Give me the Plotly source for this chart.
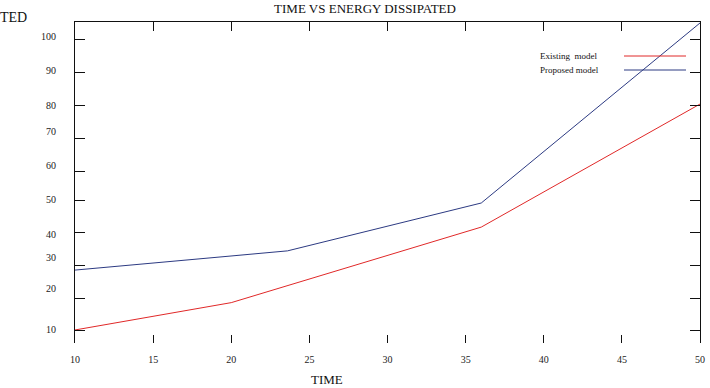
import plotly.graph_objects as go

# Data
existing_x = [10, 20, 36, 50]
existing_y = [10, 18.4, 41.6, 79.4]
proposed_x = [10, 15, 20, 23.6, 36, 50]
proposed_y = [28.4, 30.6, 32.7, 34.3, 49.0, 104.3]

x_ticks = [10, 15, 20, 25, 30, 35, 40, 45, 50]
y_label_pos = [100, 89.7, 79.0, 71.0, 60.5, 50.1, 39.4, 32.3, 22.8, 10.3]
y_labels = ["100", "90", "80", "70", "60", "50", "40", "30", "20", "10"]
y_tick_marks = [99.1, 89.2, 79.1, 68.7, 58.6, 49.9, 39.8, 29.7, 19.6, 9.7]

RED = "#e02828"
BLUE = "#2c3a82"
FONT = "Liberation Serif"

fig = go.Figure()
fig.add_trace(go.Scatter(x=existing_x, y=existing_y, mode="lines",
                         line=dict(color=RED, width=1), name="Existing model",
                         showlegend=False))
fig.add_trace(go.Scatter(x=proposed_x, y=proposed_y, mode="lines",
                         line=dict(color=BLUE, width=1), name="Proposed model",
                         showlegend=False))
# invisible trace to activate secondary axes
fig.add_trace(go.Scatter(x=[10], y=[10], xaxis="x2", yaxis="y2", mode="markers",
                         marker=dict(opacity=0), showlegend=False, hoverinfo="skip"))

yr = [6.0, 104.6]
fig.update_layout(
    width=710, height=388,
    margin=dict(l=75, r=10, t=22, b=45, autoexpand=False),
    showlegend=False,
    plot_bgcolor="white", paper_bgcolor="white",
    font=dict(family=FONT, size=10, color="#222"),
    title=dict(text="TIME VS ENERGY DISSIPATED", x=365/710, xanchor="center",
               y=1 - 8/388, yanchor="middle",
               font=dict(family=FONT, size=13, color="#111")),
    xaxis=dict(range=[10, 50], tickvals=x_ticks, ticktext=[str(v) for v in x_ticks],
               showgrid=False, zeroline=False, showline=False, automargin=False,
               ticks="inside", ticklen=8, tickcolor="#111", tickwidth=1,
               ticklabelstandoff=9, tickfont=dict(family=FONT, size=10)),
    xaxis2=dict(range=[10, 50], overlaying="x", side="top", tickvals=x_ticks,
                showticklabels=False, showgrid=False, zeroline=False, automargin=False,
                showline=True, linecolor="#111", linewidth=1,
                ticks="inside", ticklen=9, tickcolor="#111"),
    yaxis=dict(range=yr, tickvals=y_label_pos, ticktext=y_labels, automargin=False,
               showgrid=False, zeroline=False, showline=True, linecolor="#111",
               linewidth=1, ticks="", ticklabelstandoff=16,
               tickfont=dict(family=FONT, size=10)),
    yaxis2=dict(range=yr, overlaying="y", side="left", tickvals=y_tick_marks,
                showticklabels=False, showgrid=False, zeroline=False, automargin=False,
                showline=True, linecolor="#111", linewidth=1, mirror="ticks",
                ticks="inside", ticklen=10, tickcolor="#111"),
)

# y-axis title (top-left) and x-axis title
fig.add_annotation(text="TED", xref="paper", yref="paper", x=-77/625, y=(343-17)/321,
                   xanchor="left", yanchor="middle", showarrow=False,
                   font=dict(family=FONT, size=14, color="#111"))
fig.add_annotation(text="TIME", xref="paper", yref="paper", x=(327-75)/625,
                   y=(343-380)/321, xanchor="center", yanchor="middle", showarrow=False,
                   font=dict(family=FONT, size=13, color="#111"))

# Custom legend: text left, line right
legend_items = [("Existing  model", RED, 56), ("Proposed model", BLUE, 70)]
for label, color, py in legend_items:
    yp = (343 - py) / 321
    fig.add_annotation(text=label, xref="paper", yref="paper", x=(538-75)/625, y=yp,
                       xanchor="left", yanchor="middle", showarrow=False,
                       font=dict(family=FONT, size=9, color="#111"))
    fig.add_shape(type="line", xref="paper", yref="paper",
                  x0=(624-75)/625, x1=(686-75)/625, y0=yp, y1=yp,
                  line=dict(color=color, width=1))

fig.write_html("out.html")
